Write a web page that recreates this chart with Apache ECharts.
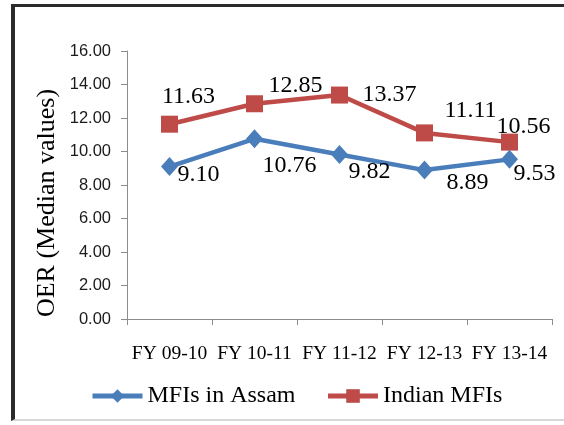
<!DOCTYPE html>
<html>
<head>
<meta charset="utf-8">
<script src="https://cdn.jsdelivr.net/npm/echarts@6/dist/echarts.min.js"></script>
<style>
  html, body { margin: 0; padding: 0; background: #fff; }
  #wrap { position: relative; width: 564px; height: 425px; overflow: hidden; }
  #chart { position: absolute; left: 0; top: 0; width: 564px; height: 425px; }
  #frame {
    position: absolute; left: 11px; top: 4px; width: 549px; height: 412px;
    border-left: 4px solid #2b2b2b; border-top: 3px solid #2b2b2b;
    border-right: 2px solid #b8b8b8; border-bottom: 2px solid #d8d8d8;
    pointer-events: none;
  }
</style>
</head>
<body>
<div id="wrap">
  <div id="chart"></div>
  <div id="frame"></div>
</div>
<script>
// Fiscal years on the category axis
const categories = ['FY 09-10', 'FY 10-11', 'FY 11-12', 'FY 12-13', 'FY 13-14'];
// Operating expense ratio, median values
const assamValues = [9.10, 10.76, 9.82, 8.89, 9.53];
const indiaValues = [11.63, 12.85, 13.37, 11.11, 10.56];
const seriesNames = ['MFIs in Assam', 'Indian MFIs'];
const axisTitle = 'OER (Median values)';

// Label placement relative to each point (pixels)
const assamLabelOffsets = [[29, 8], [35, 27], [30, 17], [43, 13], [25, 14]];
const indiaLabelOffsets = [[19, -27], [41, -18], [50, 0], [46, -22], [14, -15]];

const serif = 'Liberation Serif';
const sans = 'Liberation Sans';

function withLabels(values, offsets) {
  return values.map((v, i) => ({
    value: v,
    label: { offset: offsets[i] }
  }));
}

const labelStyle = {
  show: true,
  position: 'inside',
  fontFamily: serif,
  fontSize: 24,
  color: '#000',
  formatter: p => p.value.toFixed(2)
};

const chart = echarts.init(document.getElementById('chart'), null, { renderer: 'canvas' });
chart.setOption({
  animation: false,
  backgroundColor: '#fff',
  textStyle: { fontFamily: serif },
  grid: { left: 127, right: 12, top: 51, bottom: 106, containLabel: false },
  legend: {
    left: 85, top: 379,
    itemWidth: 50, itemHeight: 17, itemGap: 30,
    lineStyle: { width: 5 },
    textStyle: { fontFamily: serif, fontSize: 24, color: '#000' },
    data: seriesNames
  },
  graphic: [{
    type: 'text',
    x: 47, y: 203,
    rotation: Math.PI / 2,
    style: {
      text: axisTitle,
      font: '26px "Liberation Serif"',
      fill: '#000',
      align: 'center',
      verticalAlign: 'middle'
    }
  }],
  xAxis: {
    type: 'category',
    data: categories,
    boundaryGap: true,
    axisLine: { lineStyle: { color: '#8c8c8c', width: 1 } },
    axisTick: { show: true, alignWithLabel: false, length: 6, lineStyle: { color: '#8c8c8c' } },
    axisLabel: { fontFamily: serif, fontSize: 19.5, color: '#000', margin: 25, interval: 0 }
  },
  yAxis: {
    type: 'value',
    min: 0, max: 16, interval: 2,
    axisLine: { show: true, lineStyle: { color: '#8c8c8c', width: 1 } },
    axisTick: { show: true, length: 6, lineStyle: { color: '#8c8c8c' } },
    splitLine: { show: false },
    axisLabel: {
      fontFamily: sans, fontSize: 16.5, color: '#1a1a1a', margin: 16,
      formatter: v => v.toFixed(2)
    }
  },
  series: [
    {
      name: seriesNames[0],
      type: 'line',
      data: withLabels(assamValues, assamLabelOffsets),
      symbol: 'diamond',
      symbolSize: [17, 19],
      lineStyle: { color: '#4a7ebb', width: 4.5 },
      itemStyle: { color: '#4a7ebb' },
      label: labelStyle,
      z: 3
    },
    {
      name: seriesNames[1],
      type: 'line',
      data: withLabels(indiaValues, indiaLabelOffsets),
      symbol: 'rect',
      symbolSize: 17,
      lineStyle: { color: '#be4b48', width: 4.5 },
      itemStyle: { color: '#be4b48' },
      label: labelStyle,
      z: 2
    }
  ]
});
</script>
</body>
</html>
